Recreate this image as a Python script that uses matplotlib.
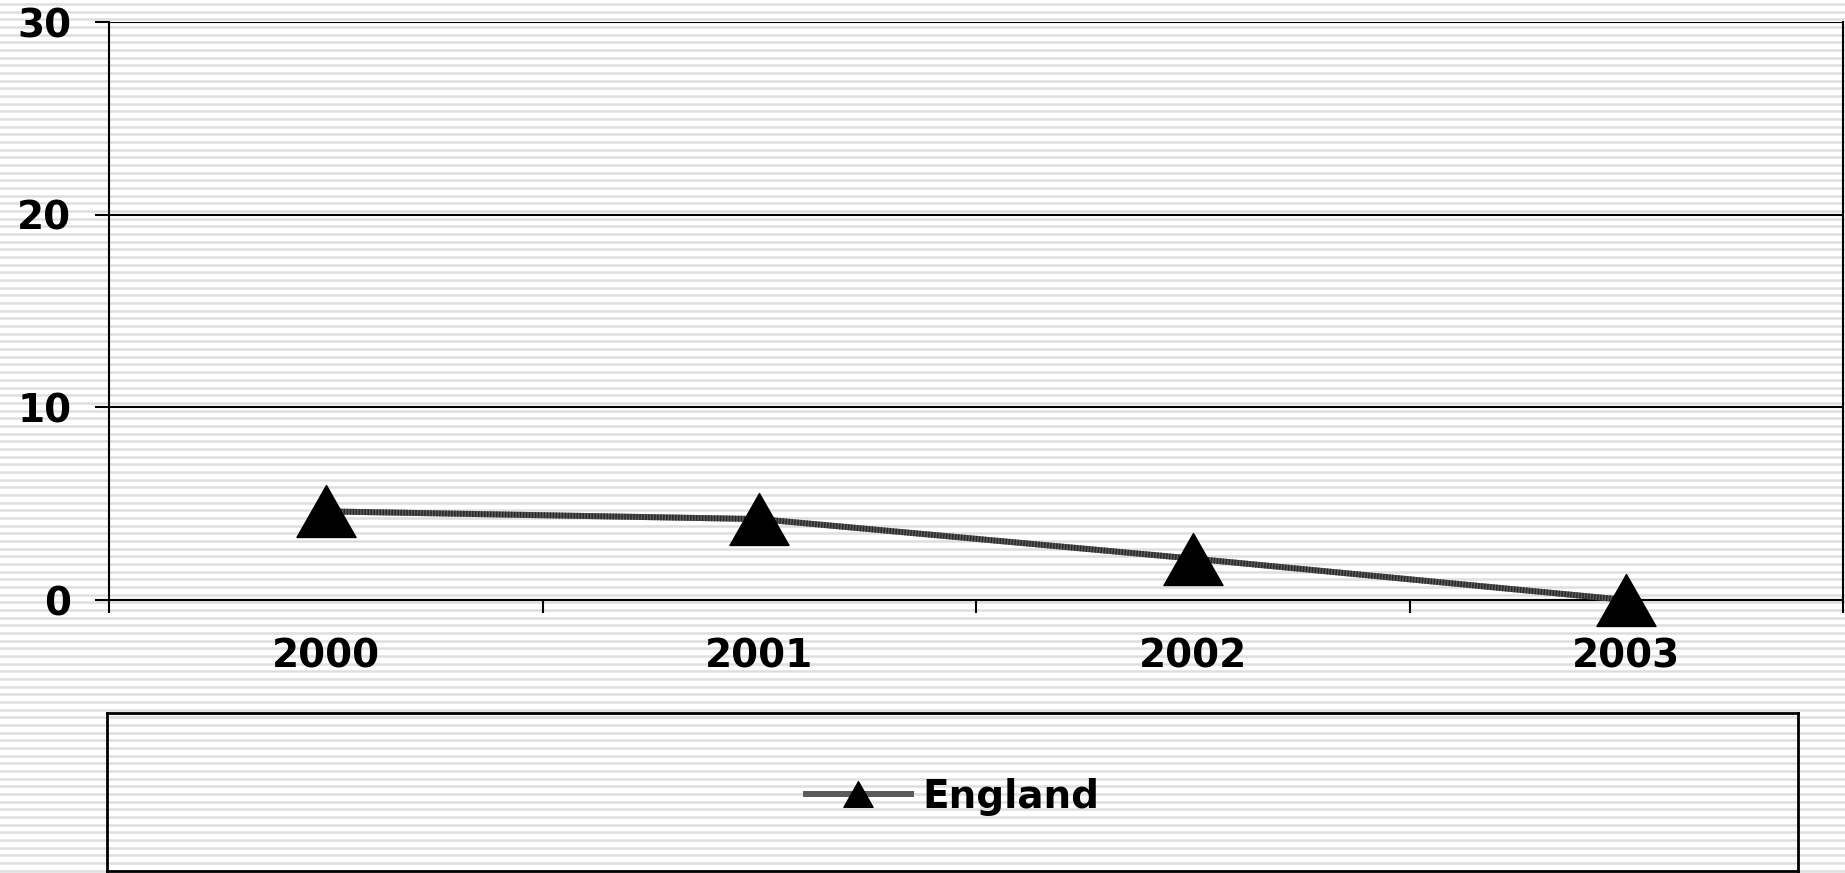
import numpy as np
import matplotlib.pyplot as plt
from matplotlib.path import Path

years = ["2000", "2001", "2002", "2003"]
england = [4.6, 4.2, 2.15, 0.0]
y_ticks = [0, 10, 20, 30]

W, H, DPI = 1845, 873, 100
fig = plt.figure(figsize=(W / DPI, H / DPI), dpi=DPI)
fig.patch.set_facecolor("white")

# striped background over the whole figure
bg = fig.add_axes([0, 0, 1, 1], zorder=-5)
bg.set_xlim(0, W)
bg.set_ylim(H, 0)
bg.axis("off")
for yy in np.arange(4.0, H, 7.67):
    bg.axhline(yy, color="#dedede", lw=1.8)


def px(x0, y0, x1, y1):
    return [x0 / W, 1 - y1 / H, (x1 - x0) / W, (y1 - y0) / H]


ax = fig.add_axes(px(109, 22, 1843, 600))
ax.set_facecolor("none")

font = dict(family="DejaVu Sans", weight="bold", size=28)

# triangle marker, a little flatter than matplotlib's default
tri = Path([(-1, -0.88), (1, -0.88), (0, 0.88), (-1, -0.88)],
           [Path.MOVETO, Path.LINETO, Path.LINETO, Path.CLOSEPOLY])

x = np.arange(len(years))
ax.plot(x, england, color="#5a5a5a", lw=4.3, zorder=3, clip_on=False,
        solid_capstyle="butt")
ax.plot(x, england, color="#2a2a2a", lw=4.3, zorder=3, clip_on=False,
        linestyle=(0, (0.25, 0.25)))
ax.plot(x, england, linestyle="none", marker=tri, ms=42.5, color="black",
        zorder=4, clip_on=False)

ax.set_xlim(-0.5, len(years) - 0.5)
ax.set_ylim(0, 30)
ax.set_yticks(y_ticks)
ax.set_yticklabels([str(t) for t in y_ticks], fontdict=font)
ax.yaxis.grid(True, color="black", lw=1.5)
ax.set_axisbelow(True)

ax.set_xticks(np.arange(-0.5, len(years), 1.0))
ax.set_xticklabels([])
ax.set_xticks(x, minor=True)
ax.set_xticklabels(years, minor=True, fontdict=font)
ax.tick_params(axis="x", which="major", direction="out", length=9,
               width=1.5, color="black")
ax.tick_params(axis="x", which="minor", length=0, pad=27)
ax.tick_params(axis="y", direction="out", length=10, width=1.5, pad=17)

for side in ["top", "right"]:
    ax.spines[side].set_visible(False)
ax.spines["left"].set_linewidth(1.5)
ax.spines["bottom"].set_linewidth(1.5)
ax.axvline(len(years) - 0.5, color="black", lw=1.5, clip_on=False)

# legend box
lax = fig.add_axes(px(107, 713, 1798, 871))
lax.set_xticks([])
lax.set_yticks([])
lax.set_facecolor("none")
for s in lax.spines.values():
    s.set_linewidth(2)
h1, = lax.plot([], [], color="#5a5a5a", lw=4.3, marker=tri, ms=21,
               markerfacecolor="black", markeredgecolor="black")
lax.legend([h1], ["England"], loc="center", frameon=False,
           prop=dict(family="DejaVu Sans", weight="bold", size=28),
           handlelength=2.7, handletextpad=0.3,
           bbox_to_anchor=(0.5, 0.47))

fig.savefig("out.png", dpi=DPI)
